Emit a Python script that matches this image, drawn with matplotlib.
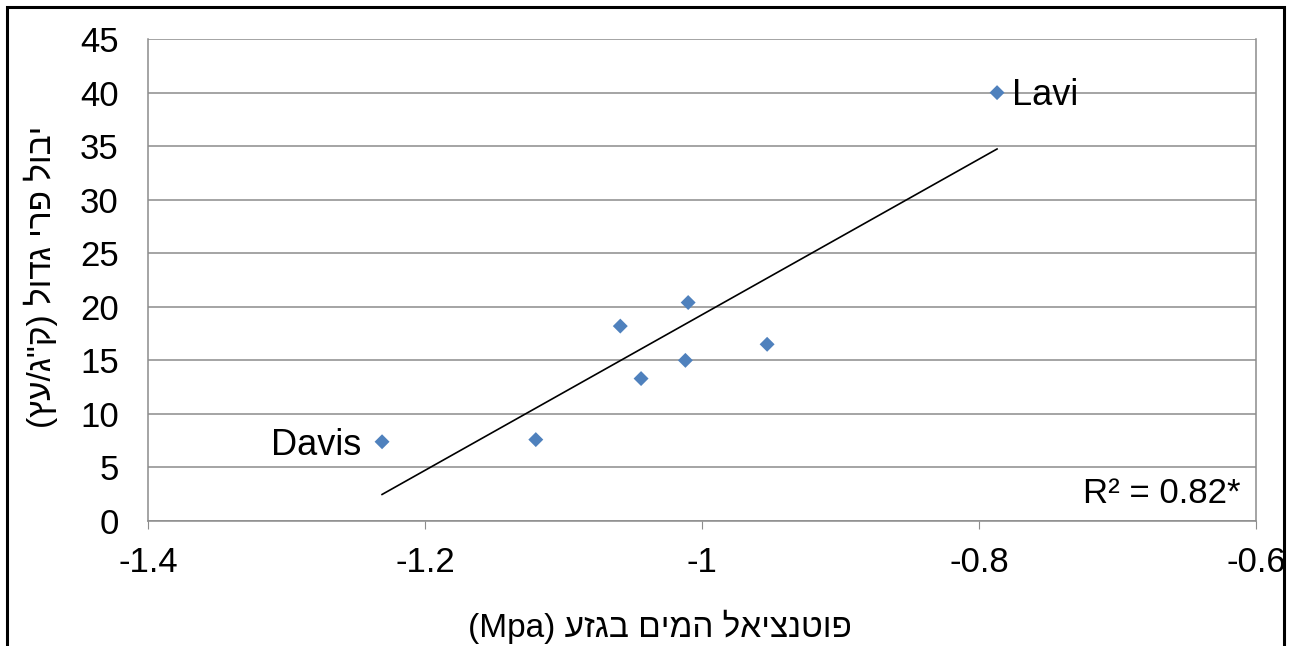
import numpy as np
import matplotlib.pyplot as plt
from matplotlib.patches import Rectangle

plt.rcParams["font.family"] = ["Liberation Sans", "DejaVu Sans"]

# water potential in trunk (MPa) vs. large fruit yield (kg/tree)
potential = [-1.231, -1.120, -1.059, -1.044, -1.010, -1.012, -0.953, -0.787]
yield_kg = [7.4, 7.6, 18.2, 13.3, 20.4, 15.0, 16.5, 40.0]
point_names = ["Davis", "", "", "", "", "", "", "Lavi"]

x_ticks = [-1.4, -1.2, -1.0, -0.8, -0.6]
x_tick_labels = ["-1.4", "-1.2", "-1", "-0.8", "-0.6"]
y_ticks = list(range(0, 50, 5))

# Hebrew labels, written in visual (left-to-right) order since matplotlib has no bidi
xlabel = "(Mpa) עזגב םימה לאיצנטופ"
ylabel = "(ץע/ג\"ק) לודג ירפ לובי"
r2_text = "R² = 0.82*"

fig = plt.figure(figsize=(12.9, 6.46), dpi=100)
ax = fig.add_axes([0.1147, 0.1935, 0.859, 0.746])

grid_col = "#8c8c8c"
ax.scatter(potential, yield_kg, marker="D", s=58, color="#4F81BD", zorder=3,
           edgecolors="none")

# linear trendline over the data range
slope, intercept = np.polyfit(potential, yield_kg, 1)
xs = np.array([min(potential), max(potential)])
ax.plot(xs, slope * xs + intercept, color="black", linewidth=1.2, zorder=2)

for x, y, name in zip(potential, yield_kg, point_names):
    if name == "Davis":
        ax.annotate(name, (x, y), xytext=(-15, -9.4), textcoords="offset points",
                    ha="right", va="baseline", fontsize=26)
    elif name == "Lavi":
        ax.annotate(name, (x, y), xytext=(11, -8.6), textcoords="offset points",
                    ha="left", va="baseline", fontsize=26)

ax.text(0.986, 0.037, r2_text, transform=ax.transAxes, ha="right", va="baseline",
        fontsize=25)

ax.set_xlim(-1.4, -0.6)
ax.set_ylim(0, 45)
ax.set_xticks(x_ticks)
ax.set_xticklabels(x_tick_labels)
ax.set_yticks(y_ticks)
ax.tick_params(axis="x", labelsize=25, length=6, color=grid_col, pad=12)
ax.tick_params(axis="y", labelsize=25, length=0, pad=21)
ax.grid(True, axis="y", color=grid_col, linewidth=1.1)
ax.set_axisbelow(True)
for side in ["left", "bottom", "right"]:
    ax.spines[side].set_color(grid_col)
    ax.spines[side].set_linewidth(1.1)
ax.spines["top"].set_visible(False)

ax.set_xlabel(xlabel, fontsize=24)
ax.set_ylabel(ylabel, fontsize=24)
ax.xaxis.set_label_coords((660 - 148) / 1108, (521 - 610) / 482)
ax.yaxis.set_label_coords((58 - 148) / 1108, (521 - 277) / 482)

# black frame around the figure (cut off at the bottom)
fig.patches.append(Rectangle((0.0054, -0.1), 0.9899, 1.089, transform=fig.transFigure,
                             fill=False, edgecolor="black", linewidth=2.2))

plt.savefig("out.png", dpi=100)
plt.close()
